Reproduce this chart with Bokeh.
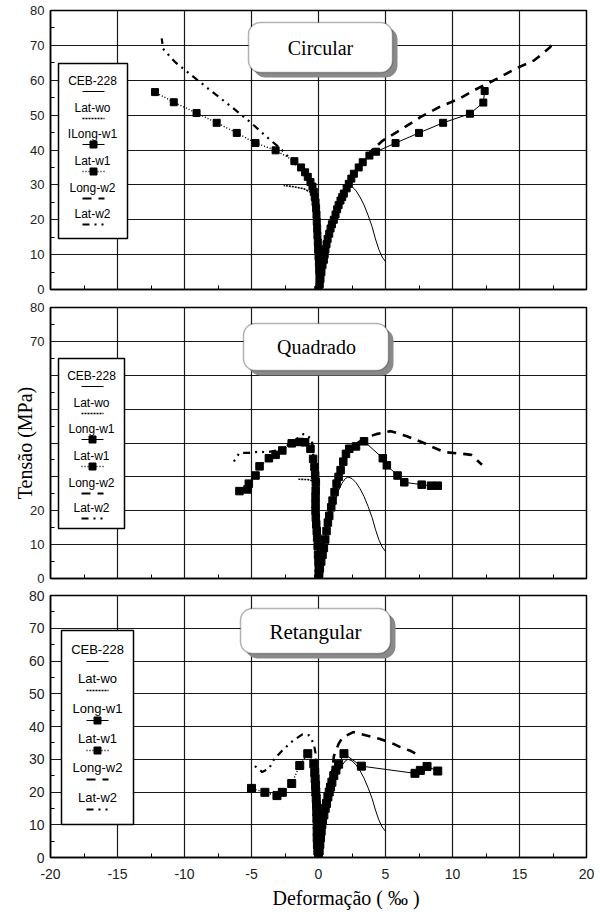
import numpy as np
from bokeh.plotting import figure
from bokeh.layouts import column
from bokeh.models import Range1d, FixedTicker, BoxAnnotation, Label, Title
from bokeh.core.properties import value
from bokeh.embed import file_html
from bokeh.resources import INLINE

# ---------------- data ----------------
x_ticks = [-20, -15, -10, -5, 0, 5, 10, 15, 20]
x_tick_labels = ["-20", "-15", "-10", "-5", "0", "5", "10", "15", "20"]
x_minor = [-17.5, -12.5, -7.5, -2.5, 2.5, 7.5, 12.5, 17.5]
y_ticks = [0, 10, 20, 30, 40, 50, 60, 70, 80]
y_tick_labels = ["0", "10", "20", "30", "40", "50", "60", "70", "80"]
y_ticks_mid = [0, 10, 20, 70, 80]          # middle panel: title covers 30-60
y_minor = [5, 15, 25, 35, 45, 55, 65, 75]

panel_titles = ["Circular", "Quadrado", "Retangular"]
legend_circ = ["CEB-228", "Lat-wo", "ILong-w1", "Lat-w1", "Long-w2", "Lat-w2"]
legend_other = ["CEB-228", "Lat-wo", "Long-w1", "Lat-w1", "Long-w2", "Lat-w2"]
y_title = "Tensão (MPa)"
x_title = "Deformação ( ‰ )"

# CEB-228 model curve (same in all panels)
ceb_x = [0, 0.25, 0.5, 0.75, 1.0, 1.25, 1.5, 1.75, 2.0, 2.2, 2.5, 2.8, 3.1, 3.4, 3.7, 4.0, 4.25, 4.5, 4.75, 5.0]
ceb_y = [0, 6, 11.3, 16, 20, 23.3, 26, 28.1, 29.5, 30, 29.5, 28.3, 26.5, 24.2, 21.3, 18, 14.5, 11.5, 9.3, 8.0]

# Circular
circ_latwo_x = [0, -0.05, -0.1, -0.2, -0.4, -1.1, -1.9, -2.6]
circ_latwo_y = [0, 10, 18, 24, 27.5, 28.9, 29.5, 29.8]
circ_longw1_x = [0, 0.08, 0.15, 0.22, 0.3, 0.4, 0.46, 0.52, 0.6, 0.68, 0.8, 0.9, 1.0, 1.14, 1.27, 1.39, 1.5,
                 1.64, 1.77, 1.89, 2.1, 2.26, 2.45, 2.64, 3.0, 3.3, 3.8, 4.3, 5.75, 7.5, 9.3, 11.3, 12.3, 12.4]
circ_longw1_y = [0, 1.5, 3, 5, 7, 8.5, 10, 11.5, 13, 14.5, 16, 17.5, 18.7, 20, 21.5, 23, 24.2,
                 25.5, 26.5, 27.5, 29, 30.3, 31.8, 33.2, 35, 36.5, 38.4, 39.5, 42.0, 44.9, 47.8, 50.4, 53.6, 56.9]
circ_latw1_x = [0, 0.08, 0.07, 0.05, 0.03, 0.0, -0.03, -0.05, -0.08, -0.1, -0.13, -0.15, -0.18, -0.22, -0.28,
                -0.35, -0.45, -0.6, -0.8, -1.0, -1.3, -1.8, -3.2, -4.7, -6.1, -7.6, -9.1, -10.8, -12.2]
circ_latw1_y = [0, 1.5, 3.5, 5.5, 7.5, 9.5, 11.5, 13.5, 15.5, 17.5, 19.5, 21.5, 23.3, 25, 26.5,
                28, 29.5, 30.8, 32.3, 33.6, 35, 36.8, 39.9, 42.0, 44.9, 47.8, 50.6, 53.7, 56.6]
circ_longw2_x = [0, 0.3, 0.6, 1.0, 1.5, 2.0, 2.6, 3.3, 4.0, 4.8, 6.0, 7.6, 9.0, 10.5, 11.8, 13.3, 14.7, 16.1, 17.3, 17.4]
circ_longw2_y = [0, 8, 14, 19.5, 24.5, 28.5, 33, 37, 40, 42.7, 45.5, 49.4, 52.3, 54.7, 57.5, 60.4, 63.3, 65.7, 69.5, 70.5]
circ_latw2_x = [0, -0.05, -0.15, -0.3, -0.6, -1.2, -2.0, -2.8, -3.7, -5.1, -6.4, -7.9, -9.3, -10.7, -11.6, -11.7]
circ_latw2_y = [0, 10, 20, 26, 30, 34, 37, 40.3, 43.2, 48, 52.1, 56.6, 60.9, 65.2, 69, 72]

# Quadrado
quad_latwo_x = [0, -0.05, -0.1, -0.2, -0.4, -0.8, -1.5]
quad_latwo_y = [0, 10, 20, 26, 28.8, 29.2, 29.3]
quad_longw1_x = [0, 0.05, 0.1, 0.2, 0.3, 0.4, 0.5, 0.6, 0.7, 0.8, 0.95, 1.05, 1.2, 1.35, 1.5, 1.65, 1.85, 2.05,
                 2.3, 2.8, 3.4, 4.8, 5.1, 5.9, 6.4, 7.7, 8.4, 8.9]
quad_longw1_y = [0, 1.5, 3, 5, 7, 9, 11.5, 14, 16.5, 18.5, 21, 23, 25.5, 28, 30, 32, 34.5, 36.8,
                 38.3, 39.0, 40.5, 35.5, 33.4, 30.4, 28.4, 27.7, 27.4, 27.4]
quad_latw1_x = [0, 0.02, 0.02, 0.0, -0.03, -0.06, -0.1, -0.13, -0.17, -0.2, -0.22, -0.22, -0.22, -0.21, -0.2,
                -0.25, -0.3, -0.4, -0.6, -1.0, -1.4, -2.0, -2.7, -3.2, -3.7, -4.4, -4.7, -5.2, -5.3, -5.9]
quad_latw1_y = [0, 1.5, 3, 5, 7, 9.5, 12, 14, 16, 18, 20, 22, 24, 26, 28.4,
                30.5, 32.9, 35.3, 38.3, 40.2, 40.3, 39.9, 37.8, 36.5, 35.5, 33.1, 30.4, 28.0, 26.3, 25.8]
quad_longw2_x = [0, 0.3, 0.6, 0.95, 1.4, 1.9, 2.5, 3.6, 4.4, 5.4, 6.6, 8.0, 8.5, 9.4, 10.8, 11.4, 12.2]
quad_longw2_y = [0, 8, 16, 22, 29, 35, 39, 41.7, 42.7, 43.5, 42, 39.8, 38.8, 37.3, 36.8, 36.5, 33.6]
quad_latw2_x = [0, -0.05, -0.15, -0.25, -0.4, -0.5, -1.1, -1.8, -2.5, -3.1, -3.8, -4.5, -5.2, -5.9, -6.4]
quad_latw2_y = [0, 10, 20, 30, 37, 41.2, 42.7, 40.7, 38.8, 37.8, 37.3, 37.4, 37.1, 37.1, 34.0]

# Retangular
rect_latwo_x = [0, -0.08, -0.15, -0.25, -0.45]
rect_latwo_y = [0, 12, 22, 27.5, 29.2]
rect_longw1_x = [0, 0.05, 0.1, 0.15, 0.2, 0.25, 0.3, 0.4, 0.5, 0.6, 0.7, 0.8, 0.9, 1.0, 1.14, 1.3, 1.5, 1.9,
                 3.2, 7.2, 7.6, 8.1, 8.9]
rect_longw1_y = [0, 2, 4, 6, 8, 10, 11.5, 13, 15, 16.5, 18.5, 20, 21.5, 23, 25, 26.7, 28.5, 31.7,
                 27.9, 25.7, 26.6, 27.8, 26.4]
rect_latw1_x = [0, -0.05, -0.08, -0.1, -0.1, -0.1, -0.12, -0.13, -0.15, -0.17, -0.2, -0.22, -0.25, -0.28,
                -0.35, -0.8, -1.4, -2.0, -2.7, -3.1, -4.0, -5.0]
rect_latw1_y = [0, 2, 4, 6, 8, 10, 12, 14, 16, 18, 20, 22, 24, 26,
                28.6, 31.7, 28.1, 22.6, 19.9, 18.9, 19.9, 21.1]
rect_longw2_x = [0, 0.3, 0.6, 0.9, 1.05, 1.15, 1.5, 1.8, 2.6, 3.1, 4.1, 4.6, 5.6, 6.1, 6.9, 7.4]
rect_longw2_y = [0, 10, 17, 23, 27, 31, 34.7, 36.7, 38.3, 37.8, 36.7, 36.2, 34.7, 33.7, 32.5, 31.4]
rect_latw2_x = [0, -0.05, -0.12, -0.2, -0.22, -0.35, -0.7, -1.2, -1.9, -2.7, -3.3, -3.7, -4.2, -4.8]
rect_latw2_y = [0, 10, 20, 28, 31.8, 34.7, 37.3, 37.6, 35.7, 32.7, 30.1, 27.1, 26.1, 28.1]

panels_data = [
    [(ceb_x, ceb_y), (circ_latwo_x, circ_latwo_y), (circ_longw1_x, circ_longw1_y),
     (circ_latw1_x, circ_latw1_y), (circ_longw2_x, circ_longw2_y), (circ_latw2_x, circ_latw2_y)],
    [(ceb_x, ceb_y), (quad_latwo_x, quad_latwo_y), (quad_longw1_x, quad_longw1_y),
     (quad_latw1_x, quad_latw1_y), (quad_longw2_x, quad_longw2_y), (quad_latw2_x, quad_latw2_y)],
    [(ceb_x, ceb_y), (rect_latwo_x, rect_latwo_y), (rect_longw1_x, rect_longw1_y),
     (rect_latw1_x, rect_latw1_y), (rect_longw2_x, rect_longw2_y), (rect_latw2_x, rect_latw2_y)],
]
legend_names = [legend_circ, legend_other, legend_other]

# ---------------- styles / layout ----------------
STY = [
    dict(line_width=1.0, line_dash="solid", marker=False),      # CEB-228
    dict(line_width=1.6, line_dash="2 1", marker=False),        # Lat-wo
    dict(line_width=1.0, line_dash="solid", marker=True),       # Long-w1
    dict(line_width=1.4, line_dash="1 2", marker=True),         # Lat-w1
    dict(line_width=2.6, line_dash="9 7", marker=False),        # Long-w2
    dict(line_width=2.2, line_dash="7 5 2 5 2 5", marker=False),  # Lat-w2
]
MSIZE = [7, 7.5, 8]
SANS = "Liberation Sans"
SERIF = "Liberation Serif"

# pixel geometry of the reference (page pixels)
FX0, FW = 50, 536
FRAMES = [(10, 289), (307, 578), (595, 857)]
BORDERS = [(10, 9), (9, 8), (9, 60)]


def dx(px):
    return -20 + (px - FX0) / FW * 40


def dy(py, k):
    top, bot = FRAMES[k]
    return (bot - py) / (bot - top) * 80


LEG = [
    dict(box=(58, 127, 63, 238), cx=92, ty=[80, 107, 133, 160, 187, 213], off=11, sx=(82, 104), fs="12px"),
    dict(box=(58, 124, 358, 528), cx=91, ty=[375, 402, 428, 455, 482, 507], off=11, sx=(81, 103), fs="12px"),
    dict(box=(61, 133, 630, 824), cx=97, ty=[649, 678, 708, 738, 767, 797], off=12, sx=(86, 108), fs="13px"),
]
TBOX = [
    dict(box=(248, 392, 22, 72), c=(320, 47), fs="20px"),
    dict(box=(243, 388, 323, 370), c=(316, 346), fs="20px"),
    dict(box=(240, 390, 608, 653), c=(315, 631), fs="21px"),
]

figs = []
for k in range(3):
    top, bot = FRAMES[k]
    bt, bb = BORDERS[k]
    p = figure(frame_width=FW, frame_height=bot - top,
               x_range=Range1d(-20, 20), y_range=Range1d(0, 80),
               min_border_left=FX0, min_border_right=12,
               min_border_top=bt, min_border_bottom=bb,
               toolbar_location=None, output_backend="svg", title=None)
    p.background_fill_color = "white"
    p.border_fill_color = "white"
    p.outline_line_color = "black"
    p.outline_line_width = 1.5

    if k == 2:
        p.xaxis.ticker = FixedTicker(ticks=x_ticks, minor_ticks=x_minor)
        p.xaxis.major_label_overrides = {t: s for t, s in zip(x_ticks, x_tick_labels)}
    else:
        p.xaxis.ticker = FixedTicker(ticks=[], minor_ticks=x_minor)
    yt = y_ticks_mid if k == 1 else y_ticks
    p.yaxis.ticker = FixedTicker(ticks=yt, minor_ticks=y_minor)
    p.yaxis.major_label_overrides = {t: s for t, s in zip(y_ticks, y_tick_labels) if t in yt}
    p.xgrid.ticker = FixedTicker(ticks=x_ticks)
    p.ygrid.ticker = FixedTicker(ticks=y_ticks)
    for ax in (p.xaxis, p.yaxis):
        ax.axis_line_color = "black"
        ax.axis_line_width = 1.5
        ax.major_tick_in = 0
        ax.major_tick_out = 0
        ax.minor_tick_in = 4
        ax.minor_tick_out = 0
        ax.minor_tick_line_color = "black"
        ax.major_label_text_font = SANS
        ax.major_label_text_color = "#222222"
    p.yaxis.major_label_text_font_size = "14px" if k == 2 else "13px"
    p.yaxis.major_label_standoff = 6
    p.xaxis.major_label_text_font_size = "14px"
    p.xaxis.major_label_standoff = 11

    p.xgrid.grid_line_color = "black"
    p.ygrid.grid_line_color = "black"
    p.xgrid.grid_line_width = 1.2
    p.ygrid.grid_line_width = 1.2
    p.xgrid.grid_line_alpha = 0.9
    p.ygrid.grid_line_alpha = 0.9

    # data series
    for (xs, ys), st in zip(panels_data[k], STY):
        p.line(xs, ys, line_color="black", line_width=st["line_width"], line_dash=st["line_dash"])
        if st["marker"]:
            p.scatter(xs, ys, marker="square", size=MSIZE[k], fill_color="black", line_color="black")

    # legend
    L = LEG[k]
    l, r, t, b = L["box"]
    p.quad(left=[dx(l)], right=[dx(r)], top=[dy(t, k)], bottom=[dy(b, k)],
           fill_color="white", line_color="black", line_width=1.5)
    for name, tyy, st in zip(legend_names[k], L["ty"], STY):
        p.text(x=[dx(L["cx"])], y=[dy(tyy, k)], text=[name], text_font=value(SANS),
               text_font_size=L["fs"], text_align="center", text_baseline="middle", text_color="black")
        sy = dy(tyy + L["off"], k)
        p.line([dx(L["sx"][0]), dx(L["sx"][1])], [sy, sy], line_color="black",
               line_width=min(st["line_width"], 2.2), line_dash=st["line_dash"])
        if st["marker"]:
            p.scatter([dx((L["sx"][0] + L["sx"][1]) / 2)], [sy], marker="square", size=7,
                      fill_color="black", line_color="black")

    # title box with shadow
    T = TBOX[k]
    l, r, t, b = T["box"]
    sh = 5
    p.add_layout(BoxAnnotation(left=dx(l + sh), right=dx(r + sh), top=dy(t + sh, k), bottom=dy(b + sh, k),
                               fill_color="#8a8a8a", fill_alpha=1.0, line_color=None, border_radius=12))
    p.add_layout(BoxAnnotation(left=dx(l), right=dx(r), top=dy(t, k), bottom=dy(b, k),
                               fill_color="white", fill_alpha=1.0, line_color="black", line_width=1.5,
                               border_radius=12))
    p.add_layout(Label(x=dx(T["c"][0]), y=dy(T["c"][1], k), text=panel_titles[k], text_font=SERIF,
                       text_font_size=T["fs"], text_align="center", text_baseline="middle", text_color="black"))
    figs.append(p)

# y-axis title on the middle panel (covers where 30-60 labels would be)
figs[1].yaxis.axis_label = y_title
figs[1].yaxis.axis_label_text_font = SERIF
figs[1].yaxis.axis_label_text_font_size = "20px"
figs[1].yaxis.axis_label_text_font_style = "normal"
figs[1].yaxis.axis_label_text_color = "black"
figs[1].yaxis.axis_label_standoff = -9

# x-axis title on the bottom panel
figs[2].add_layout(Title(text=x_title, align="left", offset=272 - FX0, text_font=SERIF,
                         text_font_size="20px", text_font_style="normal", text_color="black",
                         standoff=6), "below")

layout = column(*figs, spacing=0)
open("out.html", "w").write(file_html(layout, INLINE))
